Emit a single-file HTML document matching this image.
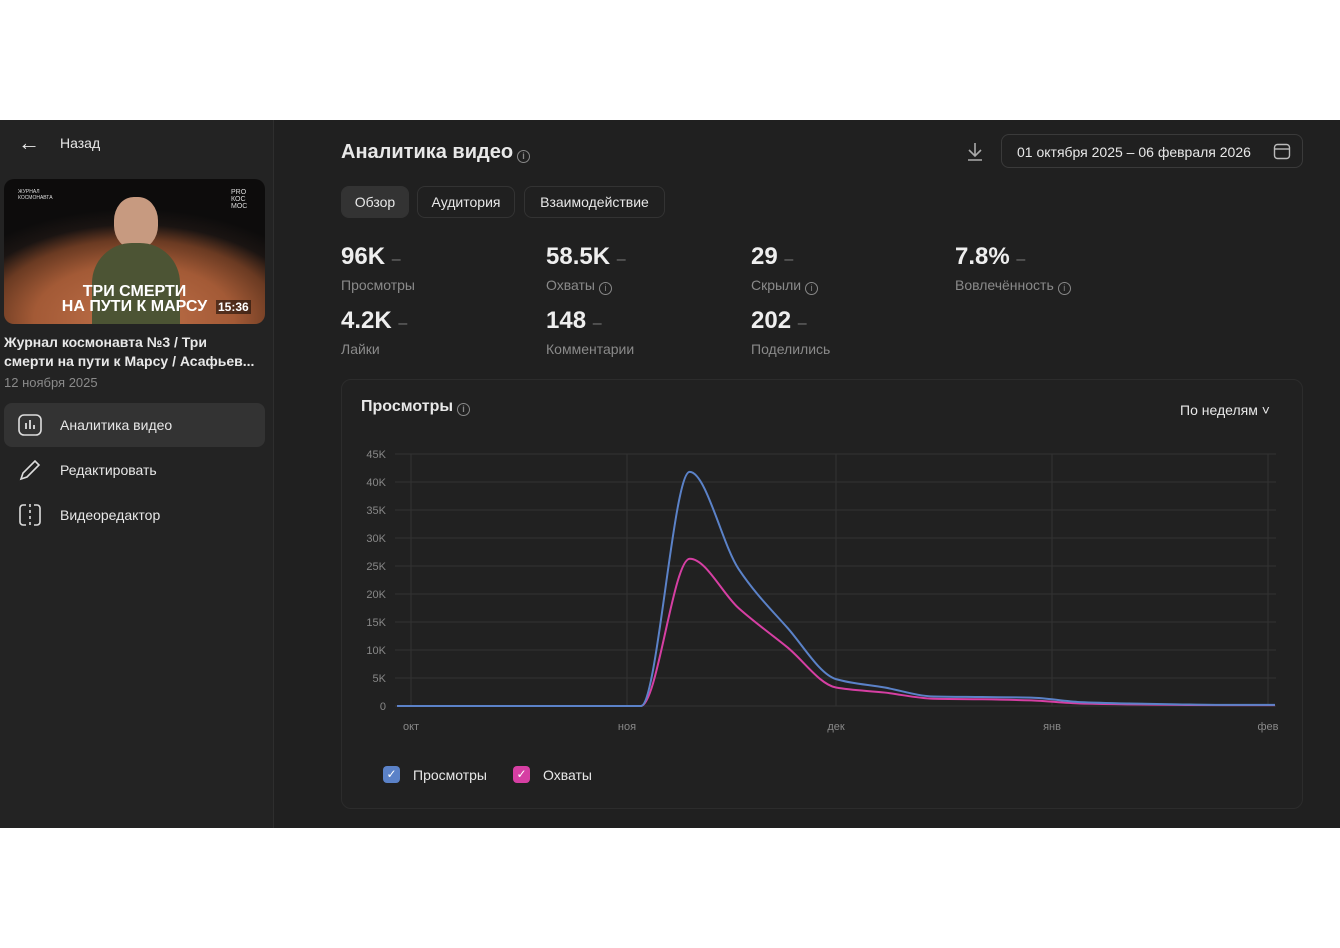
<!DOCTYPE html>
<html lang="ru"><head><meta charset="utf-8">
<style>
*{box-sizing:border-box;margin:0;padding:0}
body{width:1340px;height:948px;background:#fff;font-family:"Liberation Sans","DejaVu Sans",sans-serif;position:relative;overflow:hidden}
#app{position:absolute;left:0;top:120px;width:1340px;height:708px;background:#202020}
#side{position:absolute;left:0;top:0;width:274px;height:708px;background:#232323;border-right:1px solid #2e2e2e}
.t{position:absolute;white-space:nowrap}
.w{color:#e8e8e8}
.g{color:#8a8a8a}
.menu{position:absolute;left:4px;width:261px;height:44px;border-radius:8px;color:#e8e8e8;font-size:14px}
.menu span{position:absolute;left:56px;top:14px}
.tab{position:absolute;top:66px;height:32px;border:1px solid #333;border-radius:8px;color:#e8e8e8;font-size:14px;line-height:30px;text-align:center}
.big{font-size:24px;font-weight:bold;color:#eee}
.big i{font-style:normal;font-weight:normal;color:#777;font-size:16px}
.lbl{font-size:14px;color:#8a8a8a}
.info{display:inline-block;width:13px;height:13px;border:1px solid #888;border-radius:50%;font-size:9px;line-height:11px;text-align:center;color:#888;vertical-align:-1px;margin-left:4px;font-style:normal}
.leg{position:absolute;top:646px;font-size:14px;color:#e8e8e8;display:flex;align-items:center;height:17px}
.leg b{display:inline-block;width:17px;height:17px;border-radius:4px;color:#fff;text-align:center;font-size:12px;line-height:17px;font-weight:normal;margin-right:13px}
</style></head><body>
<div id="app">
<div id="side">
  <div class="t w" style="left:18px;top:10px;font-size:22px">←</div>
  <div class="t w" style="left:60px;top:15px;font-size:14px">Назад</div>
  <div style="position:absolute;left:4px;top:59px;width:261px;height:145px;border-radius:10px;overflow:hidden;background:radial-gradient(ellipse 200px 110px at 130px 140px,#c0714a 0%,#a35a36 50%,#6a3a22 72%,#1a1412 86%,#0d0c0c 100%)">
    <div style="position:absolute;left:110px;top:18px;width:44px;height:52px;border-radius:45%;background:#c79a80"></div>
    <div style="position:absolute;left:88px;top:64px;width:88px;height:90px;border-radius:40px 40px 0 0;background:#4c5434"></div>
    <div class="t" style="left:14px;top:10px;font-size:5px;color:#ddd">ЖУРНАЛ<br>КОСМОНАВТА</div>
    <div class="t" style="left:227px;top:10px;font-size:7px;color:#ddd;line-height:7px">PRO<br>КОС<br>МОС</div>
    <div class="t" style="left:0;width:261px;text-align:center;top:105px;font-size:16px;font-weight:bold;color:#fff;line-height:15px">ТРИ СМЕРТИ<br>НА ПУТИ К МАРСУ</div>
    <div class="t" style="left:212px;top:121px;font-size:12px;font-weight:bold;color:#fff;background:rgba(0,0,0,.5);padding:0 2px">15:36</div>
  </div>
  <div class="t w" style="left:4px;top:213px;font-size:14px;font-weight:bold;line-height:19px">Журнал космонавта №3 / Три<br>смерти на пути к Марсу / Асафьев...</div>
  <div class="t g" style="left:4px;top:255px;font-size:13px">12 ноября 2025</div>
  <div class="menu" style="top:283px;background:#333">
    <svg style="position:absolute;left:14px;top:11px" width="24" height="22"><rect x="1" y="1" width="22" height="20" rx="5" fill="none" stroke="#ddd" stroke-width="1.6"/><path d="M8 15V9M12 15V6M16 15v-4" stroke="#ddd" stroke-width="1.8"/></svg><span>Аналитика видео</span></div>
  <div class="menu" style="top:328px">
    <svg style="position:absolute;left:14px;top:10px" width="24" height="24"><path d="M3 21l2-6L17 3l4 4L9 19z" fill="none" stroke="#ddd" stroke-width="1.6"/></svg><span>Редактировать</span></div>
  <div class="menu" style="top:373px">
    <svg style="position:absolute;left:14px;top:10px" width="24" height="24"><path d="M8 2H5a3 3 0 0 0-3 3v14a3 3 0 0 0 3 3h3M16 2h3a3 3 0 0 1 3 3v14a3 3 0 0 1-3 3h-3" fill="none" stroke="#ddd" stroke-width="1.6"/><path d="M12 1v22" stroke="#ddd" stroke-width="1.6" stroke-dasharray="3 3"/></svg><span>Видеоредактор</span></div>
</div>

<div class="t w" style="left:341px;top:21px;font-size:20px;font-weight:bold">Аналитика видео<i class="info">i</i></div>
<svg style="position:absolute;left:965px;top:21px" width="20" height="20"><path d="M10 2v13M4 9l6 6 6-6M3 19h14" fill="none" stroke="#aaa" stroke-width="1.6"/></svg>
<div style="position:absolute;left:1001px;top:14px;width:302px;height:34px;border:1px solid #3a3a3a;border-radius:8px;color:#e8e8e8;font-size:14px">
  <span class="t" style="left:15px;top:9px">01 октября 2025 – 06 февраля 2026</span>
  <svg style="position:absolute;left:271px;top:7px" width="18" height="18"><rect x="1.5" y="2.5" width="15" height="14" rx="3" fill="none" stroke="#bbb" stroke-width="1.4"/><path d="M2 7h14" stroke="#bbb" stroke-width="1.4"/></svg>
</div>
<div class="tab" style="left:341px;width:68px;background:#333;border-color:#333">Обзор</div>
<div class="tab" style="left:417px;width:98px">Аудитория</div>
<div class="tab" style="left:524px;width:141px">Взаимодействие</div>

<div class="t big" style="left:341px;top:123px">96K <i>–</i></div>
<div class="t lbl" style="left:341px;top:157px">Просмотры</div>
<div class="t big" style="left:546px;top:123px">58.5K <i>–</i></div>
<div class="t lbl" style="left:546px;top:157px">Охваты<i class="info">i</i></div>
<div class="t big" style="left:751px;top:123px">29 <i>–</i></div>
<div class="t lbl" style="left:751px;top:157px">Скрыли<i class="info">i</i></div>
<div class="t big" style="left:955px;top:123px">7.8% <i>–</i></div>
<div class="t lbl" style="left:955px;top:157px">Вовлечённость<i class="info">i</i></div>
<div class="t big" style="left:341px;top:187px">4.2K <i>–</i></div>
<div class="t lbl" style="left:341px;top:221px">Лайки</div>
<div class="t big" style="left:546px;top:187px">148 <i>–</i></div>
<div class="t lbl" style="left:546px;top:221px">Комментарии</div>
<div class="t big" style="left:751px;top:187px">202 <i>–</i></div>
<div class="t lbl" style="left:751px;top:221px">Поделились</div>

<div style="position:absolute;left:341px;top:259px;width:962px;height:430px;border:1px solid #2c2c2c;border-radius:10px;background:#212121"></div>
<div class="t w" style="left:361px;top:278px;font-size:16px;font-weight:bold">Просмотры<i class="info">i</i></div>
<div class="t w" style="left:1180px;top:282px;font-size:14px">По неделям ˅</div>

<svg id="chart" style="position:absolute;left:0;top:0" width="1340" height="708"></svg>

<div class="leg" style="left:383px"><b style="background:#5b82c8">✓</b>Просмотры</div>
<div class="leg" style="left:513px"><b style="background:#d63fa3">✓</b>Охваты</div>
</div>
<script>
const days=[-2,5,12,19,26,33,40,47,54,61,68,75,82,89,96,103,110,117,124];
const views=[0,0,0,0,0,0,41800,24500,14000,4800,3300,1700,1600,1500,700,450,300,200,200];
const reach=[0,0,0,0,0,0,26300,17500,10500,3300,2400,1300,1200,1000,450,300,200,150,150];
const yTicks=[0,5000,10000,15000,20000,25000,30000,35000,40000,45000];
const yTickLabels=["0","5K","10K","15K","20K","25K","30K","35K","40K","45K"];
const monthDays=[0,31,61,92,123];
const monthLabels=["окт","ноя","дек","янв","фев"];
const NS="http://www.w3.org/2000/svg",svg=document.getElementById('chart');
const X=d=>411+d*(857/123), Y=v=>586-v*(252/45000);
function el(t,a){const e=document.createElementNS(NS,t);for(const k in a)e.setAttribute(k,a[k]);svg.appendChild(e);return e;}
yTicks.forEach((v,i)=>{
  const l=el('line',{x1:395,x2:1276,y1:Y(v),y2:Y(v),stroke:'#333','stroke-width':1});
  
  
  const t=el('text',{x:386,y:Y(v)+4,'text-anchor':'end',fill:'#888','font-size':11,'font-family':'Liberation Sans'});
  t.textContent=yTickLabels[i];
  
  
});
monthDays.forEach((d,i)=>{
  const l=el('line',{x1:X(d),x2:X(d),y1:Y(45000),y2:Y(0),stroke:'#333','stroke-width':1});
  
  
  const t=el('text',{x:X(d),y:610,'text-anchor':'middle',fill:'#888','font-size':11,'font-family':'Liberation Sans'});
  t.textContent=monthLabels[i];
  
  
});
function path(vals){
  const p=days.map((d,i)=>[X(d),Y(vals[i])]);const n=p.length;
  const m=[];for(let i=0;i<n;i++){
    const s0=i>0?(p[i][1]-p[i-1][1])/(p[i][0]-p[i-1][0]):null,s1=i<n-1?(p[i+1][1]-p[i][1])/(p[i+1][0]-p[i][0]):null;
    if(s0===null)m.push(s1);else if(s1===null)m.push(s0);else if(s0*s1<=0)m.push(0);else m.push(2/(1/s0+1/s1));}
  let s='M'+p[0][0]+','+p[0][1];
  for(let i=0;i<n-1;i++){const h=(p[i+1][0]-p[i][0])/3;
    s+=' C'+(p[i][0]+h)+','+(p[i][1]+m[i]*h)+' '+(p[i+1][0]-h)+','+(p[i+1][1]-m[i+1]*h)+' '+p[i+1][0]+','+p[i+1][1];}
  return s;}
const r=el('path',{d:path(reach),fill:'none',stroke:'#d63fa3','stroke-width':2});


const v=el('path',{d:path(views),fill:'none',stroke:'#5b82c8','stroke-width':2});


</script>
</body></html>
